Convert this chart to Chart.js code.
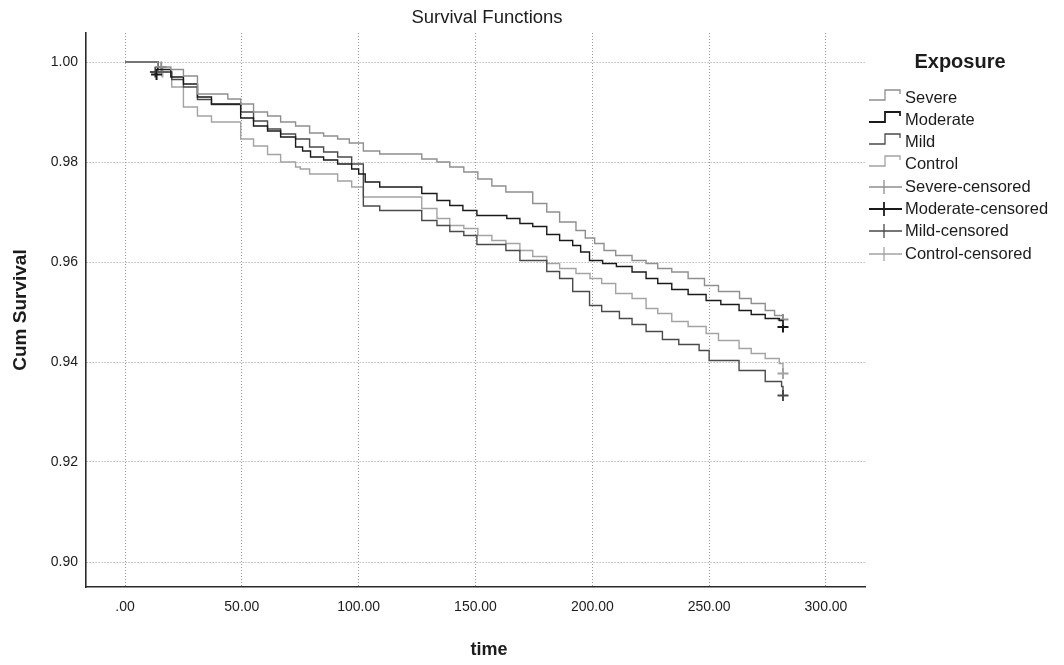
<!DOCTYPE html>
<html>
<head>
<meta charset="utf-8">
<script src="https://cdn.jsdelivr.net/npm/chart.js@4.4.0/dist/chart.umd.min.js"></script>
<style>
  html, body { margin: 0; padding: 0; background: #fff; }
  #wrap { width: 1064px; height: 665px; }
</style>
</head>
<body>
<div id="wrap"><canvas id="myChart" width="1064" height="665"></canvas></div>
<script>
// series names + colours (grey scale like the SPSS print)
const groups = ['Severe', 'Moderate', 'Mild', 'Control'];
const groupColors = ['#8f8f8f', '#1a1a1a', '#4a4a4a', '#a3a3a3'];

// step points: time, survival after the event at that time
const severeTime = [0, 14, 19.6, 25, 31, 44, 49.5, 55, 61, 66.6, 73, 79, 85, 91, 96, 102, 109, 127, 133.5, 139, 145, 151, 157, 163, 174.5, 180.5, 186, 193, 197, 201, 205, 210, 217, 223, 228, 234, 241, 248, 254, 263, 268, 274, 278, 281.6];
const severeSurv = [1.0, 0.9990, 0.9985, 0.9972, 0.9936, 0.9926, 0.9916, 0.9900, 0.9892, 0.9880, 0.9872, 0.9858, 0.9852, 0.9846, 0.9838, 0.9822, 0.9816, 0.9806, 0.9800, 0.9790, 0.9780, 0.9766, 0.9752, 0.9740, 0.9717, 0.9700, 0.9680, 0.9663, 0.9648, 0.9637, 0.9623, 0.9613, 0.9603, 0.9597, 0.9587, 0.9580, 0.9567, 0.9553, 0.9541, 0.9527, 0.9517, 0.9503, 0.9493, 0.9485];

const moderateTime = [0, 14, 19.6, 25, 31, 37, 49.5, 55, 61, 66.6, 73, 76, 79.4, 85, 91, 97, 100, 102.8, 109, 127, 133.5, 139, 144.6, 150.6, 163.4, 169, 174.5, 180.5, 186, 191.6, 195, 198.8, 204.4, 210.3, 217, 223, 228, 234, 241, 248.7, 255, 262.8, 268, 274, 280, 281.6];
const moderateSurv = [1.0, 0.9985, 0.9970, 0.9956, 0.9930, 0.9916, 0.9888, 0.9872, 0.9862, 0.9850, 0.9830, 0.9822, 0.9810, 0.9804, 0.9796, 0.9786, 0.9776, 0.9760, 0.9750, 0.9737, 0.9723, 0.9713, 0.9703, 0.9693, 0.9687, 0.9677, 0.9671, 0.9655, 0.9643, 0.9633, 0.9620, 0.9603, 0.9597, 0.9591, 0.9580, 0.9567, 0.9557, 0.9545, 0.9535, 0.9523, 0.9515, 0.9503, 0.9495, 0.9487, 0.9483, 0.9470];

const mildTime = [0, 14, 20, 25, 31, 37, 49.5, 55, 61, 66.6, 73, 79, 85, 91, 97, 102, 109, 127, 133.5, 139, 145, 150.6, 163, 169, 180.5, 186, 191.6, 198.8, 204, 211.6, 217, 223, 230, 237, 245.7, 250, 262.8, 274, 281, 281.6];
const mildSurv = [1.0, 0.9980, 0.9965, 0.9950, 0.9925, 0.9915, 0.9900, 0.9882, 0.9866, 0.9856, 0.9846, 0.9830, 0.9820, 0.9810, 0.9796, 0.9712, 0.9703, 0.9683, 0.9673, 0.9661, 0.9653, 0.9635, 0.9623, 0.9603, 0.9581, 0.9567, 0.9541, 0.9513, 0.9501, 0.9487, 0.9475, 0.9461, 0.9445, 0.9435, 0.9423, 0.9403, 0.9383, 0.9361, 0.9351, 0.9333];

const controlTime = [0, 14, 20, 25, 31, 37, 49.5, 55, 61, 66.6, 73, 75, 79, 91, 97, 102, 127, 133.5, 139, 145, 151, 157, 163, 169, 174.5, 180.5, 186, 193, 199, 204, 210, 217, 223, 228, 234, 241, 248.7, 254, 262.8, 268, 274, 280, 281.6];
const controlSurv = [1.0, 0.9980, 0.9950, 0.9910, 0.9892, 0.9880, 0.9846, 0.9832, 0.9815, 0.9800, 0.9790, 0.9786, 0.9776, 0.9762, 0.9750, 0.9730, 0.9707, 0.9687, 0.9673, 0.9667, 0.9653, 0.9643, 0.9637, 0.9623, 0.9611, 0.9597, 0.9587, 0.9577, 0.9567, 0.9557, 0.9537, 0.9527, 0.9507, 0.9497, 0.9481, 0.9471, 0.9457, 0.9443, 0.9427, 0.9417, 0.9407, 0.9397, 0.9377];

// censored marks (time, survival) per group
const severeCensTime = [15.5, 281.6];
const severeCensSurv = [0.9990, 0.9485];
const moderateCensTime = [13.5, 281.6];
const moderateCensSurv = [0.9975, 0.9470];
const mildCensTime = [13, 281.6];
const mildCensSurv = [0.9980, 0.9333];
const controlCensTime = [16, 281.6];
const controlCensSurv = [0.9980, 0.9377];

// axis ticks
const xTicks = [0, 50, 100, 150, 200, 250, 300];
const yTicks = [0.90, 0.92, 0.94, 0.96, 0.98, 1.00];

function toPoints(xs, ys) {
    return xs.map(function (x, i) { return { x: x, y: ys[i] }; });
}

const curveTimes = [severeTime, moderateTime, mildTime, controlTime];
const curveSurvs = [severeSurv, moderateSurv, mildSurv, controlSurv];
const censTimes = [severeCensTime, moderateCensTime, mildCensTime, controlCensTime];
const censSurvs = [severeCensSurv, moderateCensSurv, mildCensSurv, controlCensSurv];

const datasets = [];
groups.forEach(function (g, i) {
    datasets.push({
        label: g,
        data: toPoints(curveTimes[i], curveSurvs[i]),
        showLine: true,
        stepped: true,
        borderColor: groupColors[i],
        borderWidth: 1.4,
        pointRadius: 0,
        fill: false
    });
});
groups.forEach(function (g, i) {
    datasets.push({
        label: g + '-censored',
        data: toPoints(censTimes[i], censSurvs[i]),
        showLine: false,
        pointStyle: 'cross',
        pointRadius: 5.5,
        pointBorderWidth: 2,
        borderColor: groupColors[i],
        backgroundColor: groupColors[i]
    });
});

const FONT = '"Liberation Sans", Arial, sans-serif';

// title, x title and legend drawn on the canvas
const extras = {
    id: 'extras',
    beforeDraw: function (chart) {
        const c = chart.ctx;
        c.save();
        c.fillStyle = '#fff';
        c.fillRect(0, 0, chart.width, chart.height);
        c.restore();
    },
    afterDraw: function (chart) {
        const c = chart.ctx;
        c.save();
        c.fillStyle = '#1c1c1c';
        c.textBaseline = 'middle';
        c.textAlign = 'center';
        c.font = '18.5px ' + FONT;
        c.fillText('Survival Functions', 487, 18);
        c.font = 'bold 18px ' + FONT;
        c.fillText('time', 489, 650);

        // legend
        c.font = 'bold 20px ' + FONT;
        c.fillText('Exposure', 960, 62);
        const rowY = [98, 120, 142, 164, 187, 209, 231, 254];
        c.textAlign = 'left';
        c.font = '16.5px ' + FONT;
        const names = groups.concat(groups.map(function (g) { return g + '-censored'; }));
        names.forEach(function (name, i) {
            const y = rowY[i];
            const col = groupColors[i % 4];
            c.strokeStyle = col;
            c.lineWidth = i % 4 === 1 ? 1.8 : 1.3;
            c.beginPath();
            if (i < 4) {
                c.moveTo(869, y + 2);
                c.lineTo(885, y + 2);
                c.lineTo(885, y - 8);
                c.lineTo(900, y - 8);
                c.lineTo(900, y - 4);
            } else {
                c.moveTo(869, y);
                c.lineTo(902, y);
                c.moveTo(884, y - 7);
                c.lineTo(884, y + 7);
            }
            c.stroke();
            c.fillStyle = '#1c1c1c';
            c.fillText(name, 905, y);
        });
        c.restore();
    }
};

const config = {
    type: 'scatter',
    data: { datasets: datasets },
    options: {
        responsive: false,
        animation: false,
        layout: { padding: { top: 33, right: 199, left: 0, bottom: 0 } },
        plugins: {
            legend: { display: false },
            title: { display: false },
            tooltip: { enabled: false }
        },
        scales: {
            x: {
                type: 'linear',
                min: -16.7,
                max: 316.7,
                afterFit: function (s) { s.height = 78; },
                afterBuildTicks: function (s) { s.ticks = xTicks.map(function (v) { return { value: v }; }); },
                ticks: {
                    padding: 12,
                    color: '#1c1c1c',
                    font: { family: FONT, size: 14 },
                    callback: function (v) { return v === 0 ? '.00' : v.toFixed(2); }
                },
                grid: { color: '#9c9c9c', lineWidth: 1, drawTicks: false },
                border: { display: true, color: '#2a2a2a', width: 1.6, dash: [1, 2] }
            },
            y: {
                type: 'linear',
                min: 0.895,
                max: 1.0058,
                afterFit: function (s) { s.width = 86; },
                afterBuildTicks: function (s) { s.ticks = yTicks.map(function (v) { return { value: v }; }); },
                ticks: {
                    padding: 8,
                    color: '#1c1c1c',
                    font: { family: FONT, size: 14 },
                    callback: function (v) { return v.toFixed(2); }
                },
                title: {
                    display: true,
                    text: 'Cum Survival',
                    color: '#1c1c1c',
                    font: { family: FONT, size: 19, weight: 'bold' },
                    padding: { top: 9, bottom: 0 }
                },
                grid: { color: '#9c9c9c', lineWidth: 1, drawTicks: false },
                border: { display: true, color: '#2a2a2a', width: 1.6, dash: [1, 2] }
            }
        }
    },
    plugins: [extras]
};

const myChart = new Chart(document.getElementById('myChart'), config);
</script>
</body>
</html>
